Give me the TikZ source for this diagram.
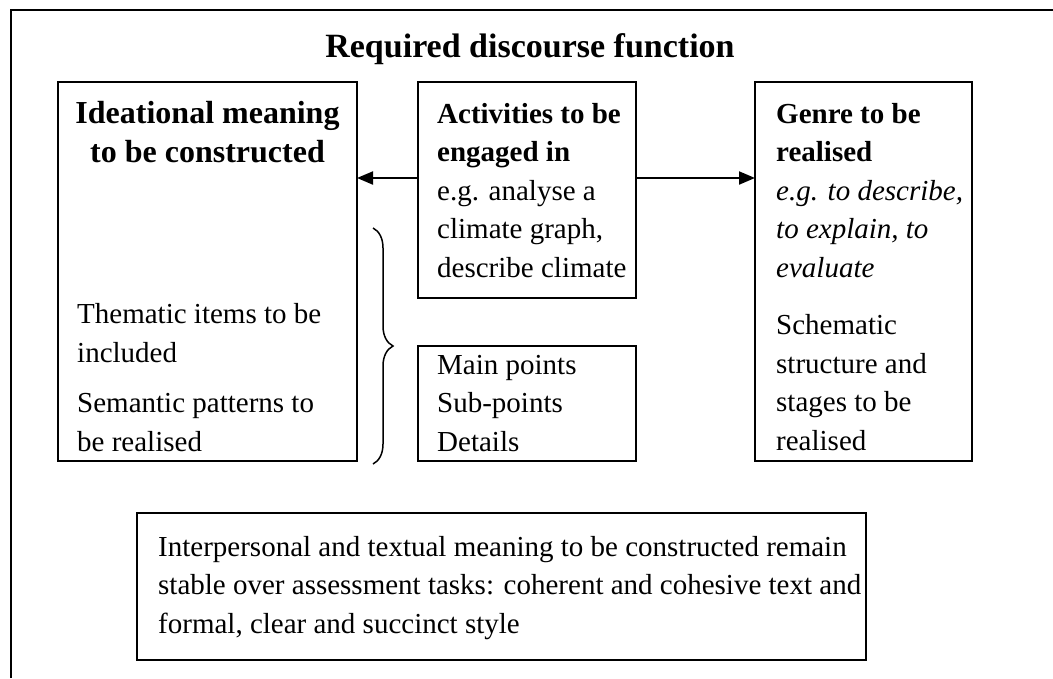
\documentclass[tikz,border=0pt]{standalone}
\usepackage{fontspec}
\setmainfont{Liberation Serif}
\usetikzlibrary{arrows.meta,decorations.pathreplacing}
\begin{document}
\begin{tikzpicture}[x=1pt,y=-1pt,
  frame/.style={line width=2pt},
  boxline/.style={draw,line width=2pt},
  txt/.style={anchor=base west,inner sep=0pt,align=left,
    font=\fontsize{29}{38.5}\selectfont},
  head/.style={anchor=base,inner sep=0pt,align=center,
    font=\fontsize{32}{39}\selectfont\bfseries},
  link/.style={line width=2pt,-{Triangle[length=16pt,width=13pt]}}]
\useasboundingbox (0,0) rectangle (1053,678);
% outer frame (top and left edges)
\draw[frame] (11,678) -- (11,10) -- (1053,10);
\node[head,font=\fontsize{34}{40}\selectfont\bfseries] (title) at (530,57) {Required discourse function};
% boxes
\draw[boxline] (58,82) rectangle (357,461);
\draw[boxline] (418,82) rectangle (636,298);
\draw[boxline] (755,82) rectangle (972,461);
\draw[boxline] (418,346) rectangle (636,461);
\draw[boxline] (137,513) rectangle (866,660);
\coordinate (ideaR) at (357,178);
\coordinate (actL) at (418,178);
\coordinate (actR) at (636,178);
\coordinate (genL) at (755,178);
% texts (each node is anchored at the baseline of its last line)
\node[head] (idea) at (207.5,162) {Ideational meaning\\to be constructed};
\node[txt] (items) at (77,362) {Thematic items to be\\included};
\node[txt] (sem) at (77,451) {Semantic patterns to\\be realised};
\node[txt] (act) at (437,277) {\textbf{Activities to be}\\\textbf{engaged in}\\e.g. analyse a\\climate graph,\\describe climate};
\node[txt] (gen) at (776,277) {\textbf{Genre to be}\\\textbf{realised}\\\textit{e.g. to describe,}\\\textit{to explain, to}\\\textit{evaluate}};
\node[txt] (schem) at (776,450) {Schematic\\structure and\\stages to be\\realised};
\node[txt] (pts) at (437,451) {Main points\\Sub-points\\Details};
\node[txt] (inter) at (158,633) {Interpersonal and textual meaning to be constructed remain\\stable over assessment tasks: coherent and cohesive text and\\formal, clear and succinct style};
% arrows
\draw[link] (actL) -- (ideaR);
\draw[link] (actR) -- (genL);
% brace
\draw[line width=1.5pt,decorate,decoration={brace,amplitude=20pt}] (373,228) -- (373,464);
\end{tikzpicture}
\end{document}
